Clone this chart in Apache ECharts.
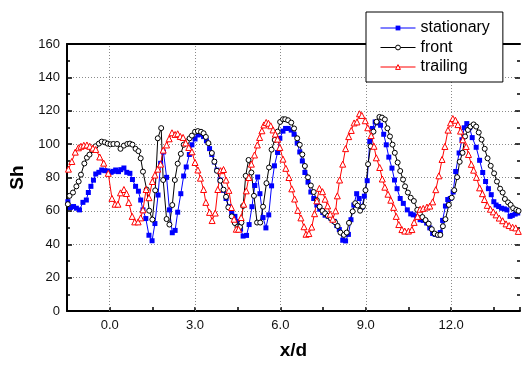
<!DOCTYPE html>
<html>
<head>
<meta charset="utf-8">
<script src="https://cdn.jsdelivr.net/npm/echarts@6/dist/echarts.min.js"></script>
<style>
  html, body { margin: 0; padding: 0; background: #fff; }
  #chart { width: 523px; height: 365px; }
</style>
</head>
<body>
<div id="chart"></div>
<script>
// values
const stationaryX = [-1.47,-1.38,-1.27,-1.17,-1.06,-0.94,-0.82,-0.75,-0.66,-0.57,-0.49,-0.38,-0.28,-0.17,-0.06,0.05,0.13,0.21,0.31,0.39,0.50,0.60,0.71,0.80,0.91,1.01,1.09,1.17,1.27,1.38,1.49,1.59,1.70,1.79,1.89,2.00,2.10,2.20,2.30,2.39,2.50,2.60,2.69,2.80,2.89,3.00,3.10,3.21,3.30,3.40,3.51,3.59,3.68,3.77,3.88,4.00,4.09,4.19,4.29,4.40,4.51,4.60,4.69,4.81,4.90,5.00,5.10,5.20,5.28,5.39,5.49,5.59,5.69,5.79,5.90,5.98,6.09,6.18,6.27,6.38,6.48,6.59,6.68,6.77,6.86,6.97,7.07,7.17,7.28,7.38,7.49,7.57,7.68,7.77,7.89,7.98,8.07,8.19,8.29,8.39,8.48,8.58,8.68,8.77,8.86,8.95,9.05,9.14,9.23,9.33,9.43,9.52,9.63,9.72,9.81,9.92,10.01,10.10,10.21,10.32,10.46,10.58,10.67,10.79,10.91,11.02,11.14,11.25,11.35,11.44,11.55,11.62,11.70,11.80,11.88,11.97,12.07,12.16,12.28,12.38,12.46,12.55,12.65,12.74,12.88,13.00,13.11,13.21,13.31,13.41,13.50,13.58,13.67,13.77,13.87,13.96,14.07,14.15,14.25,14.34];
const stationaryY = [65.5,62,62.6,61.6,60.6,65.1,66.5,71,74.7,78.4,82.1,83.1,84.5,84.1,83.9,83.1,83.7,84.5,83.5,84.7,85.7,83.1,82.5,78.8,74.7,71.8,66.5,60.6,55.4,45.4,42.1,52.4,69.5,88.5,95.3,80.1,60.6,46.9,48.3,59.2,70.3,80.9,86.3,93.8,99.6,103.1,105.5,105.9,104.5,102,97.3,93.8,89.3,84.4,78.5,72.3,67.4,62.5,58.6,56.7,53.7,49,44.9,45.3,51.8,62.5,75.2,80.3,70.3,56,49.8,57.6,75,87,95,103.5,107.8,109.4,109.4,108.4,105.9,100.6,95.3,89.9,83,77.2,71.3,67.4,63.5,61,59,57.4,56.7,55.7,53.7,51.2,48.8,42.4,42,45.9,54.7,63.5,70.3,67.4,62.1,68.8,78.1,101.6,109.4,113.3,112.7,111.3,105.9,99.6,92.2,85.6,78.5,73.3,67.4,64.5,60.6,58.2,57.6,56.7,54.7,54.3,52.7,49.8,46.5,45.9,45.5,47,54.3,62.9,66.8,67.4,71.3,83.6,94.7,102.6,109.8,112.3,109.8,103.9,98.1,90.3,83,77.6,73.3,69.7,65.5,63.5,62.6,61.6,61.2,60.6,56.7,57.3,58.1,58.7];

const frontX = [-1.47,-1.41,-1.29,-1.17,-1.09,-1.01,-0.89,-0.80,-0.71,-0.62,-0.50,-0.38,-0.28,-0.17,-0.07,0.03,0.13,0.26,0.38,0.50,0.62,0.71,0.80,0.91,1.01,1.09,1.17,1.30,1.39,1.50,1.60,1.69,1.81,1.88,2.00,2.10,2.20,2.29,2.39,2.50,2.60,2.71,2.81,2.89,3.00,3.10,3.21,3.30,3.38,3.47,3.59,3.68,3.77,3.89,4.00,4.09,4.17,4.29,4.40,4.49,4.58,4.63,4.69,4.78,4.88,4.98,5.07,5.18,5.29,5.39,5.51,5.60,5.69,5.80,5.90,5.99,6.09,6.17,6.27,6.38,6.48,6.59,6.68,6.77,6.86,6.97,7.07,7.17,7.28,7.38,7.48,7.57,7.67,7.78,7.92,8.01,8.11,8.23,8.33,8.41,8.54,8.63,8.71,8.80,8.90,8.99,9.08,9.17,9.27,9.38,9.48,9.57,9.67,9.76,9.85,9.94,10.02,10.12,10.21,10.31,10.38,10.48,10.58,10.69,10.81,10.90,10.99,11.10,11.21,11.32,11.42,11.53,11.62,11.71,11.80,11.92,12.02,12.11,12.21,12.30,12.40,12.49,12.59,12.68,12.79,12.88,12.97,13.07,13.18,13.28,13.39,13.51,13.61,13.72,13.81,13.89,14.00,14.09,14.18,14.29,14.37];
const frontY = [64,69,71,74.7,77.6,81.7,88.4,91.9,93.7,96.4,98.7,100.3,101.5,101.1,100.3,99.9,100.1,100.1,97.2,99.1,100.1,100.3,99.7,97.2,95.8,91.5,83.5,72.8,60.1,54.8,72.3,103.5,109.6,78.5,55.1,51.8,63.5,78.5,88.3,94.2,99.6,101.6,103.5,105.1,107.4,107.8,107.4,106.5,104.3,100.6,94.7,89.5,84,78.1,72.7,68.4,62.1,56.7,52.7,50.4,50.4,53,63,81,90.5,83,69,53,53,62.5,76.6,86,96.7,102.5,107.5,113.3,114.9,114.9,114.3,112.9,109.4,103.5,99.6,93.8,86.9,80.1,75.2,71.3,66.4,62.5,60,58.5,57,55.5,53.2,50.9,47,45.6,47,52.8,59.7,64.6,63.2,60.1,62.6,72.4,88,98.7,107.5,113.4,116.3,115.9,114.8,109.5,104.6,99.7,94.8,89,83.9,78.8,74.7,71,67.9,65.9,60.6,58.5,56.3,54.5,52.3,49,46.4,45.6,45.6,50.8,55,63.6,67.9,72.4,80.2,89.4,94.8,104.6,108.5,110.5,111.8,110.5,107,102.7,97.2,91.5,87,82.5,77.6,73.3,71,67.1,65.1,63.6,61.6,60.6,60];

const trailingX = [-1.45,-1.33,-1.21,-1.10,-1.01,-0.91,-0.80,-0.70,-0.59,-0.49,-0.35,-0.21,-0.05,0.08,0.19,0.29,0.38,0.50,0.59,0.67,0.79,0.88,1.00,1.09,1.17,1.28,1.38,1.50,1.59,1.69,1.79,1.88,2.00,2.09,2.19,2.30,2.39,2.48,2.58,2.67,2.78,2.89,3.00,3.10,3.19,3.30,3.38,3.51,3.60,3.71,3.80,3.90,4.00,4.09,4.19,4.28,4.37,4.45,4.53,4.62,4.71,4.80,4.89,4.98,5.09,5.19,5.27,5.35,5.42,5.50,5.58,5.66,5.74,5.82,5.90,5.98,6.09,6.19,6.30,6.40,6.50,6.61,6.72,6.83,6.90,7.00,7.10,7.20,7.28,7.37,7.48,7.57,7.66,7.75,7.84,7.94,8.00,8.08,8.19,8.29,8.40,8.49,8.59,8.69,8.78,8.86,8.98,9.07,9.19,9.29,9.37,9.49,9.58,9.67,9.78,9.88,9.98,10.07,10.16,10.27,10.37,10.50,10.62,10.70,10.82,10.91,11.02,11.15,11.25,11.35,11.46,11.57,11.68,11.78,11.89,11.98,12.06,12.15,12.24,12.33,12.41,12.53,12.61,12.71,12.79,12.89,13.00,13.10,13.17,13.27,13.38,13.48,13.58,13.69,13.81,13.93,14.04,14.16,14.27,14.36];
const trailingY = [85,89.6,95.2,97.8,98.7,99.3,99.5,98.7,97.6,96.8,92.3,88.6,82.5,67.5,64,64,70.8,72.8,70.4,65,56.7,53.4,53.4,55.8,60.6,72.8,67.9,77.6,81.5,85,88,96.4,99.5,103.2,106.8,105.8,106.2,104.6,104,100.7,98,95.4,89,84.5,79.6,72.8,65.1,59.1,54.2,58.7,72.8,84.1,84.8,78.5,72.3,62,55,49,49,56,64,72,80,88,93.5,99.5,104,108,111.5,113,112.5,111,108.5,106,103,98,91,85.5,80,73.2,67.1,60.3,55.8,50.5,46,46.4,50.3,58.3,66,73.5,71.5,67,63,58,55,60,69,78.5,88,97.3,104.5,108.2,112.7,113.3,118.2,117.2,114,109.8,105.1,98.7,91.8,86,79.1,74.2,70,66.4,62.1,56.7,51.8,48.8,47.9,47.9,48.8,53.1,56.7,61,61.5,62.3,62.9,65.4,72.7,81,90.8,98.6,108.4,112.7,115.3,114.3,111.7,107.8,102.6,98.6,93.8,87.9,84.4,80.1,73.8,70.3,66.8,63.3,61,59.4,57.6,55.7,54.1,52.2,51.2,50.2,49.8,47.7];

const xLabelValues = [0, 3, 6, 9, 12];
const legendNames = ['stationary', 'front', 'trailing'];

const toPairs = (xs, ys) => xs.map((x, i) => [x, ys[i]]);
const font = "'Liberation Sans', Arial, sans-serif";
const dotted = { type: [1, 2], color: '#8a8a8a', width: 1 };
const black = { color: '#000', width: 2 };

const chart = echarts.init(document.getElementById('chart'));

const option = {
  animation: false,
  textStyle: { fontFamily: font },
  grid: { left: 67, right: -1, top: 44, bottom: 48 },
  legend: {
    data: legendNames,
    orient: 'vertical',
    left: 366,
    top: 12,
    padding: [8, 13, 7, 14],
    itemGap: 3.5,
    itemWidth: 35,
    itemHeight: 6,
    backgroundColor: '#fff',
    borderColor: '#000',
    borderWidth: 1,
    borderRadius: 0,
    lineStyle: { width: 1 },
    itemStyle: { borderWidth: 1 },
    textStyle: { fontSize: 16, color: '#000', fontFamily: font }
  },
  xAxis: [
    {
      type: 'value', min: -1.5, max: 14.42, interval: 1.5, position: 'bottom',
      name: 'x/d', nameLocation: 'middle', nameGap: 30,
      nameTextStyle: { fontSize: 19, fontWeight: 'bold', color: '#000' },
      axisLine: { onZero: false, lineStyle: black },
      axisTick: { inside: true, length: 4, lineStyle: { color: '#000', width: 1.5 } },
      axisLabel: {
        margin: 8, fontSize: 13, color: '#111',
        formatter: function (v) {
          return xLabelValues.some(t => Math.abs(t - v) < 1e-6) ? v.toFixed(1) : '';
        }
      },
      splitLine: { show: false }
    },
    {
      type: 'value', min: -1.5, max: 14.42, position: 'top',
      axisLine: { onZero: false, lineStyle: black },
      axisTick: { show: false }, axisLabel: { show: false }, splitLine: { show: false }
    }
  ],
  yAxis: [
    {
      type: 'value', min: 0, max: 160, interval: 20, position: 'left',
      name: 'Sh', nameLocation: 'middle', nameGap: 38,
      nameTextStyle: { fontSize: 19, fontWeight: 'bold', color: '#000' },
      axisLine: { show: true, onZero: false, lineStyle: black },
      axisTick: { inside: true, length: 5, lineStyle: { color: '#000', width: 1.5 } },
      minorTick: { show: true, splitNumber: 2, length: 3, lineStyle: { color: '#000', width: 1.5 } },
      axisLabel: { margin: 7, fontSize: 13, color: '#111' },
      splitLine: { show: true, lineStyle: dotted }
    },
    {
      type: 'value', min: 0, max: 160, interval: 20, position: 'right',
      axisLine: { show: false, onZero: false },
      axisTick: { inside: true, length: 5, lineStyle: { color: '#000', width: 1.5 } },
      minorTick: { show: true, splitNumber: 2, length: 3, lineStyle: { color: '#000', width: 1.5 } },
      axisLabel: { show: false }, splitLine: { show: false }
    }
  ],
  series: [
    {
      name: 'stationary', type: 'line',
      data: toPairs(stationaryX, stationaryY),
      symbol: 'rect', symbolSize: 5,
      lineStyle: { color: '#0000ff', width: 1 },
      itemStyle: { color: '#0000ff' },
      markLine: {
        silent: true, symbol: ['none', 'none'], z: 1, animation: false,
        label: { show: false },
        lineStyle: dotted,
        data: xLabelValues.map(v => ({ xAxis: v }))
      }
    },
    {
      name: 'front', type: 'line',
      data: toPairs(frontX, frontY),
      symbol: 'circle', symbolSize: 5,
      lineStyle: { color: '#000', width: 1 },
      itemStyle: { color: '#fff', borderColor: '#000', borderWidth: 1 }
    },
    {
      name: 'trailing', type: 'line',
      data: toPairs(trailingX, trailingY),
      symbol: 'triangle', symbolSize: 6,
      lineStyle: { color: '#ff0000', width: 1 },
      itemStyle: { color: '#fff', borderColor: '#ff0000', borderWidth: 1 }
    }
  ]
};

chart.setOption(option);
</script>
</body>
</html>
